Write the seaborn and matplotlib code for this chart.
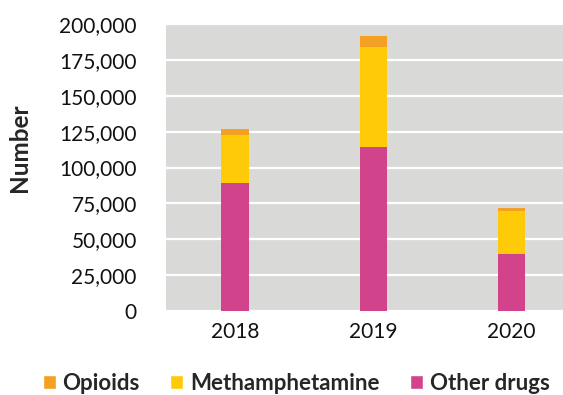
import numpy as np
import pandas as pd
import matplotlib
matplotlib.use("Agg")
import matplotlib.pyplot as plt
from matplotlib.patches import Patch
from matplotlib.ticker import FuncFormatter
import seaborn as sns

sns.set_theme(style="white")
plt.rcParams["font.family"] = ["Lato", "DejaVu Sans"]

years = ["2018", "2019", "2020"]
other_drugs = [89400, 114300, 39700]
methamphetamine = [33500, 69900, 30000]
opioids = [3900, 7400, 2300]

ORANGE, YELLOW, PINK = "#F4A022", "#FFCB08", "#D1448C"
BG = "#D9DAD8"

df = pd.DataFrame({"year": years, "other": other_drugs,
                   "meth": methamphetamine, "opioids": opioids})
df["meth_top"] = df["other"] + df["meth"]
df["total"] = df["meth_top"] + df["opioids"]

fig = plt.figure(figsize=(5.63, 3.95), dpi=100)
ax = fig.add_axes([166 / 563, 1 - 311 / 395, 414.75 / 563, 287 / 395])
ax.set_facecolor(BG)

# stacked bars: draw cumulative totals, top layer first
for col, color in [("total", ORANGE), ("meth_top", YELLOW), ("other", PINK)]:
    sns.barplot(data=df, x="year", y=col, color=color, width=0.2,
                saturation=1, linewidth=0, ax=ax, zorder=3)

ax.set_ylim(0, 200000)
ax.set_xlim(-0.5, 2.5)
ax.set_yticks(np.arange(0, 200001, 25000))
ax.yaxis.set_major_formatter(FuncFormatter(lambda v, p: f"{int(v):,}"))
ax.grid(axis="y", color="white", linewidth=1.6, zorder=0)
ax.set_axisbelow(True)
for s in ax.spines.values():
    s.set_visible(False)
ax.tick_params(axis="y", length=0, pad=21, labelsize=15, colors="#111111")
ax.tick_params(axis="x", length=0, pad=8, labelsize=15, colors="#111111")
ax.set_xlabel("")
ax.set_ylabel("Number", fontsize=17.5, fontweight="bold")
ax.yaxis.set_label_coords(-0.325, 0.57)

handles = [Patch(facecolor=ORANGE, label="Opioids"),
           Patch(facecolor=YELLOW, label="Methamphetamine"),
           Patch(facecolor=PINK, label="Other drugs")]
fig.legend(handles=handles, loc="center", bbox_to_anchor=(296 / 563, 1 - 383 / 395),
           ncol=3, frameon=False, handlelength=0.6, handleheight=0.6,
           handletextpad=0.3, columnspacing=1.35,
           prop={"weight": "bold", "size": 16})

fig.savefig("out.png", dpi=100)
